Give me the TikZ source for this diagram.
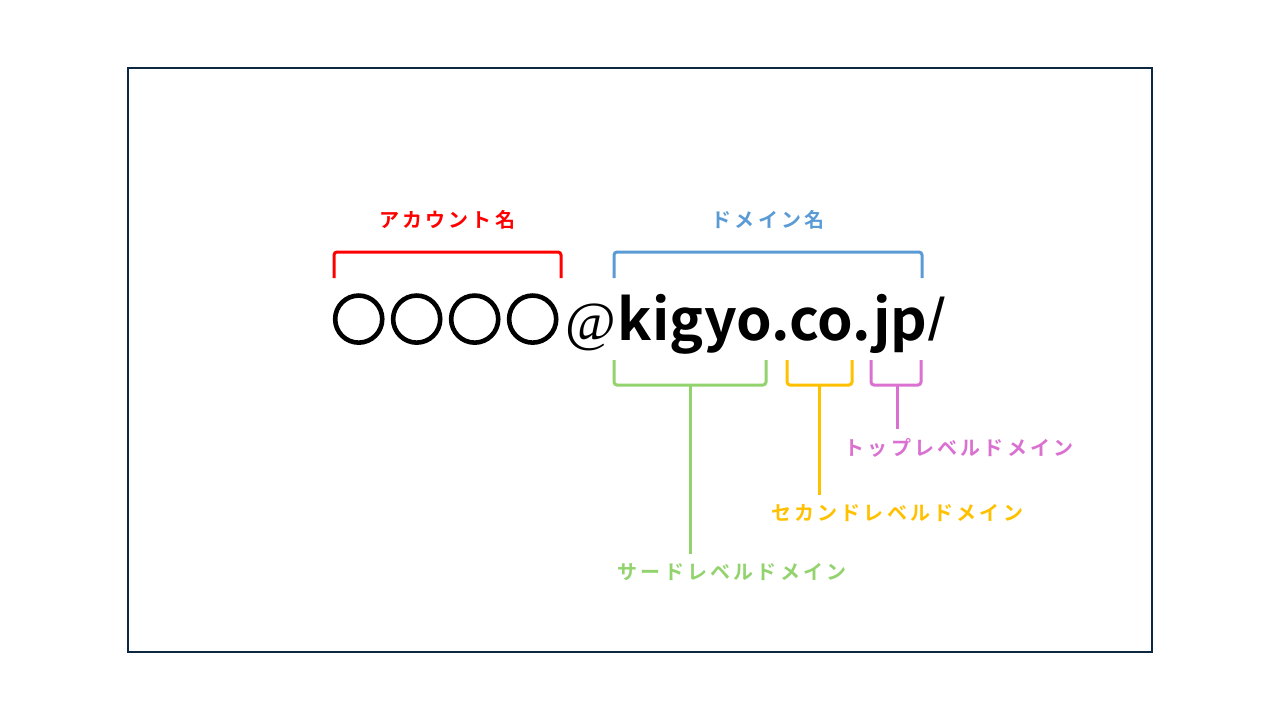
\documentclass[tikz,border=0pt]{standalone}
\usepackage{fontspec}
\usetikzlibrary{calc}
\newfontfamily\jpb{Noto Sans CJK JP Bold}
\newfontfamily\circfont{Noto Sans CJK JP Bold}[FakeBold=4]
\newfontfamily\atfont{Liberation Serif}
\newfontfamily\slfont{Liberation Sans}
\definecolor{framec}{HTML}{0E2841}
\definecolor{cred}{HTML}{FF0000}
\definecolor{cblue}{HTML}{5B9BD5}
\definecolor{cgreen}{HTML}{92D36E}
\definecolor{corange}{HTML}{FFC000}
\definecolor{cpink}{HTML}{DA70D0}
\begin{document}
\begin{tikzpicture}[x=1pt,y=-1pt,
  brk/.style={line width=3pt, rounded corners=3pt},
  stem/.style={line width=3pt},
  lab/.style={font=\jpb\fontsize{20}{24}\selectfont\addfontfeatures{LetterSpace=16}, inner sep=0pt}]
\useasboundingbox (0,0) rectangle (1280,720);
\draw[framec, line width=1.5pt] (128,68) rectangle (1152,652);
\node[anchor=base west, inner sep=0pt, font=\jpb\fontsize{57}{60}\selectfont] (addr) at (331,340) {{\circfont\fontsize{55}{60}\selectfont ○\kern3pt○\kern3pt○\kern3pt○}\kern5pt{\atfont\fontsize{55}{60}\selectfont @}\kern2pt kigyo.co.jp{\slfont\fontsize{60}{60}\selectfont\kern1pt/}};
% labels above
\node[lab, text=cred] (acc) at (447,220) {アカウント名};
\node[lab, text=cblue] (dom) at (768,220) {ドメイン名};
% brackets
\draw[brk, cred] (334,278) -- (334,252) -- (561,252) -- (561,278);
\draw[brk, cblue] (614,278) -- (614,252) -- (922,252) -- (922,278);
\draw[brk, cgreen] (614,360) -- (614,385) -- (766,385) -- (766,360);
\draw[brk, corange] (787,360) -- (787,385) -- (852,385) -- (852,360);
\draw[brk, cpink] (871,360) -- (871,385) -- (921,385) -- (921,360);
\coordinate (gm) at (690,385);
\coordinate (om) at (819,385);
\coordinate (pm) at (897,385);
% labels below
\node[lab, text=cpink] (top) at (959,448) {トップレベルドメイン};
\node[lab, text=corange] (sec) at (897,513) {セカンドレベルドメイン};
\node[lab, text=cgreen] (thi) at (732,572) {サードレベルドメイン};
\draw[stem, cpink] (pm) -- ($(pm |- top.north)+(0,-9)$);
\draw[stem, corange] (om) -- ($(om |- sec.north)+(0,-9)$);
\draw[stem, cgreen] (gm) -- ($(gm |- thi.north)+(0,-9)$);
\end{tikzpicture}
\end{document}
